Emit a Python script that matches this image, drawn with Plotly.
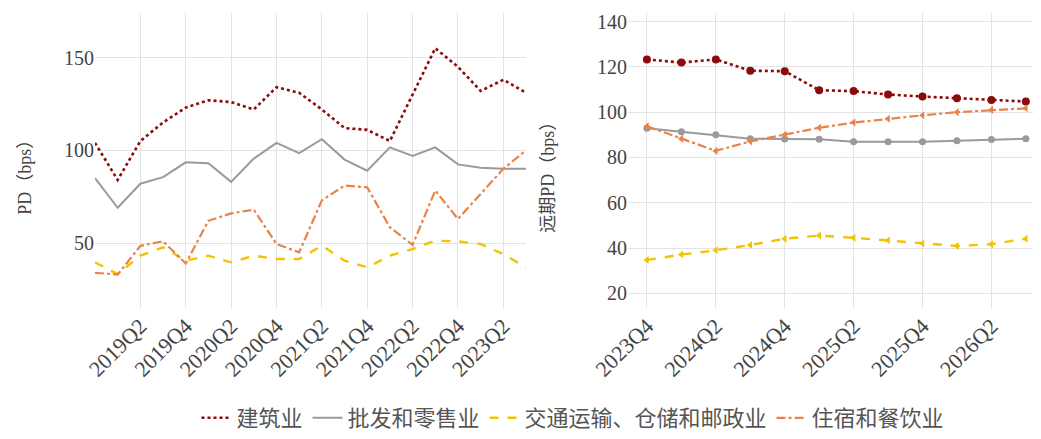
import plotly.graph_objects as go

# ---------------- data ----------------
quarters_hist = ["2018Q4", "2019Q1", "2019Q2", "2019Q3", "2019Q4", "2020Q1", "2020Q2",
                 "2020Q3", "2020Q4", "2021Q1", "2021Q2", "2021Q3", "2021Q4", "2022Q1",
                 "2022Q2", "2022Q3", "2022Q4", "2023Q1", "2023Q2", "2023Q3"]
hist_ticks = ["2019Q2", "2019Q4", "2020Q2", "2020Q4", "2021Q2", "2021Q4",
              "2022Q2", "2022Q4", "2023Q2"]

construction_hist = [104, 84, 105, 115, 123, 127, 126, 122, 134, 131,
                     122, 112, 111, 105, 130, 155, 145, 132, 138, 131]
retail_hist = [85, 69, 82, 85.5, 93.5, 93, 83, 95.5, 104, 98.5,
               106, 95, 89, 101.6, 97, 101.6, 92.4, 90.6, 90, 90]
transport_hist = [39.6, 33.3, 43.2, 47.7, 40.5, 43.2, 39.6, 43.2, 41.4, 41.4,
                  48.6, 40.5, 36.9, 43.2, 46.8, 51.3, 50.9, 49.5, 44, 36.9]
hotel_hist = [34, 33, 48.5, 51, 39, 62, 66, 68, 49.5, 45,
              73, 81, 80, 58.5, 49, 78.3, 63, 76.5, 90, 100]

quarters_fwd = ["2023Q4", "2024Q1", "2024Q2", "2024Q3", "2024Q4", "2025Q1",
                "2025Q2", "2025Q3", "2025Q4", "2026Q1", "2026Q2", "2026Q3"]
fwd_ticks = ["2023Q4", "2024Q2", "2024Q4", "2025Q2", "2025Q4", "2026Q2"]

construction_fwd = [123.3, 121.9, 123.3, 118.3, 118.1, 109.7, 109.3, 107.8, 106.9, 106.1, 105.4, 104.7]
retail_fwd = [92.9, 91.4, 90.0, 88.3, 88.1, 88.0, 86.9, 86.9, 86.9, 87.4, 87.9, 88.3]
transport_fwd = [34.7, 37.1, 39.0, 41.3, 44.1, 45.5, 44.5, 43.4, 42.0, 40.9, 41.7, 44.1]
hotel_fwd = [93.8, 88.3, 82.9, 87.1, 90.0, 93.1, 95.4, 97.1, 98.6, 100.0, 101.0, 101.7]

names = ["建筑业", "批发和零售业", "交通运输、仓储和邮政业", "住宿和餐饮业"]
left_yticks = [50, 100, 150]
right_yticks = [20, 40, 60, 80, 100, 120, 140]

# ---------------- styles ----------------
colors = ["#8B0A0A", "#9A9A9A", "#F2C300", "#E8834A"]
dashes = ["dot", "solid", "dash", "dashdot"]
widths = [2.6, 2.0, 2.4, 2.2]
symbols = ["circle", "circle", "triangle-left", "triangle-left"]

# the page body has an 8px margin, so the figure is placed at (8, 8)
OFF = 8
W, H = 1041 - OFF, 439 - OFF
TXT = "#444444"
FONT = "Liberation Serif, Times New Roman, Noto Sans CJK SC, serif"

PLOT_TOP, PLOT_BOT = 13 - OFF, 312 - OFF
PH = PLOT_BOT - PLOT_TOP

fig = go.Figure()

hist_series = [construction_hist, retail_hist, transport_hist, hotel_hist]
fwd_series = [construction_fwd, retail_fwd, transport_fwd, hotel_fwd]

for i, name in enumerate(names):
    fig.add_trace(go.Scatter(
        x=quarters_hist, y=hist_series[i], name=name, mode="lines",
        line=dict(color=colors[i], dash=dashes[i], width=widths[i]),
        xaxis="x", yaxis="y", showlegend=True, legendgroup=name))

for i, name in enumerate(names):
    fig.add_trace(go.Scatter(
        x=quarters_fwd, y=fwd_series[i], name=name, mode="lines+markers",
        line=dict(color=colors[i], dash=dashes[i], width=widths[i]),
        marker=dict(color=colors[i], size=8 if i == 0 else 7, symbol=symbols[i]),
        xaxis="x2", yaxis="y2", showlegend=False, legendgroup=name))

grid = "#E3E3E3"
common = dict(showline=False, zeroline=False, gridcolor=grid, gridwidth=1,
              ticks="", automargin=False)
xfont = dict(family=FONT, size=22, color=TXT)
yfont = dict(family=FONT, size=20, color=TXT)

title_y = (PLOT_BOT - (175 - OFF)) / PH

fig.update_layout(
    width=W, height=H,
    margin=dict(l=0, r=0, t=PLOT_TOP, b=H - PLOT_BOT),
    paper_bgcolor="white", plot_bgcolor="white",
    font=dict(family=FONT, color=TXT),
    xaxis=dict(domain=[(95 - OFF) / W, (526 - OFF) / W], type="category", categoryorder="array",
               categoryarray=quarters_hist, tickmode="array", tickvals=hist_ticks,
               ticktext=hist_ticks, tickangle=-45, range=[0, len(quarters_hist) - 1],
               anchor="y", tickfont=xfont, **common),
    yaxis=dict(domain=[0, 1], range=[15, 174], tickmode="array", tickvals=left_yticks,
               anchor="x", tickfont=yfont, **common),
    xaxis2=dict(domain=[(628 - OFF) / W, 1.0], type="category", categoryorder="array",
                categoryarray=quarters_fwd, tickmode="array", tickvals=fwd_ticks,
                ticktext=fwd_ticks, tickangle=-45, range=[-0.55, 11.44],
                anchor="y2", tickfont=xfont, **common),
    yaxis2=dict(domain=[0, 1], range=[13.5, 143.8], tickmode="array", tickvals=right_yticks,
                anchor="x2", tickfont=yfont, **common),
    legend=dict(orientation="h", x=(573 - OFF) / W, xanchor="center",
                y=(PLOT_BOT - (424 - OFF)) / PH, yanchor="middle",
                font=dict(family=FONT, size=22, color="#555555"),
                bgcolor="rgba(0,0,0,0)"),
    annotations=[
        dict(text="PD（bps）", xref="paper", yref="paper", x=(25 - OFF) / W, xanchor="center",
             y=title_y, yanchor="middle", textangle=-90, showarrow=False,
             font=dict(family=FONT, size=18, color=TXT)),
        dict(text="远期PD（bps）", xref="paper", yref="paper", x=(548 - OFF) / W, xanchor="center",
             y=title_y, yanchor="middle", textangle=-90, showarrow=False,
             font=dict(family=FONT, size=18, color=TXT)),
    ],
)

fig.write_html("out.html")
